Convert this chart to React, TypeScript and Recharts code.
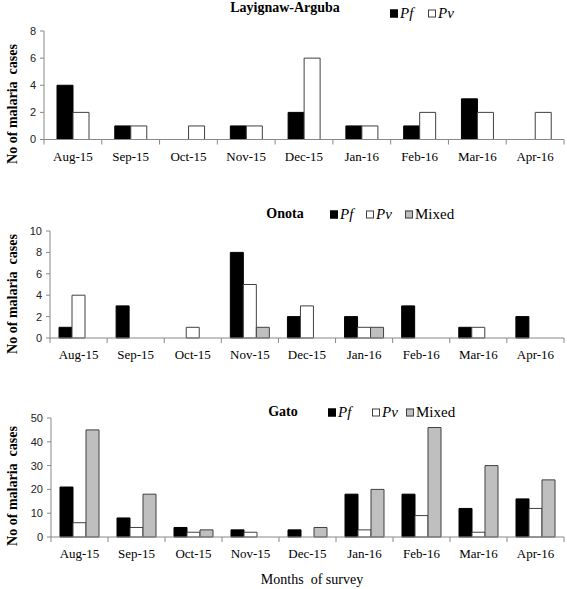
import { BarChart, Bar, XAxis, YAxis, Label } from 'recharts'

const months = ['Aug-15', 'Sep-15', 'Oct-15', 'Nov-15', 'Dec-15', 'Jan-16', 'Feb-16', 'Mar-16', 'Apr-16']

const layignawPf = [4, 1, 0, 1, 2, 1, 1, 3, 0]
const layignawPv = [2, 1, 1, 1, 6, 1, 2, 2, 2]

const onotaPf = [1, 3, 0, 8, 2, 2, 3, 1, 2]
const onotaPv = [4, 0, 1, 5, 3, 1, 0, 1, 0]
const onotaMixed = [0, 0, 0, 1, 0, 1, 0, 0, 0]

const gatoPf = [21, 8, 4, 3, 3, 18, 18, 12, 16]
const gatoPv = [6, 4, 2, 2, 0, 3, 9, 2, 12]
const gatoMixed = [45, 18, 3, 0, 4, 20, 46, 30, 24]

const layignawTicks = [0, 2, 4, 6, 8]
const onotaTicks = [0, 2, 4, 6, 8, 10]
const gatoTicks = [0, 10, 20, 30, 40, 50]

const W = 567
const RIGHT = 3
const AXIS = '#888888'
const SERIF = '"Liberation Serif", "Times New Roman", serif'
const SANS = '"Liberation Sans", Arial, sans-serif'

const SERIES = {
  Pf: { fill: '#000000', stroke: '#000000', italic: true },
  Pv: { fill: '#ffffff', stroke: '#404040', italic: true },
  Mixed: { fill: '#bfbfbf', stroke: '#404040', italic: false },
} as const

type Key = keyof typeof SERIES

const build = (cols: Partial<Record<Key, number[]>>) =>
  months.map((m, i) => {
    const row: any = { month: m }
    ;(Object.keys(cols) as Key[]).forEach((k) => (row[k] = cols[k]![i]))
    return row
  })

// month label plus boundary tick marks (ticks sit between categories)
const MonthTick = (props: any) => {
  const { x, y, payload, index, band } = props
  return (
    <g>
      <line x1={x - band / 2} y1={y} x2={x - band / 2} y2={y + 5} stroke={AXIS} />
      {index === months.length - 1 && (
        <line x1={x + band / 2} y1={y} x2={x + band / 2} y2={y + 5} stroke={AXIS} />
      )}
      <text
        x={x}
        y={y + 21}
        textAnchor="middle"
        style={{ fontFamily: SERIF, fontSize: 13, fill: '#000' }}
      >
        {payload.value}
      </text>
    </g>
  )
}

type PanelProps = {
  top: number
  height: number
  plotTop: number
  plotBottom: number
  left: number
  barSize: number
  title: string
  titleX: number
  titleY: number
  legendY: number
  legendX: number[]
  data: any[]
  keys: Key[]
  ticks: number[]
  labelY: number
}

const Panel = (p: PanelProps) => {
  const band = (W - p.left - RIGHT) / months.length
  return (
    <div style={{ position: 'absolute', left: 0, top: p.top, width: W, height: p.height }}>
      <BarChart
        width={W}
        height={p.height}
        data={p.data}
        margin={{ top: p.plotTop, right: RIGHT, left: 0, bottom: 0 }}
        barGap={0}
        barSize={p.barSize}
      >
        <XAxis
          dataKey="month"
          height={p.height - p.plotBottom}
          stroke={AXIS}
          tickLine={false}
          tickSize={0}
          tickMargin={0}
          interval={0}
          tick={(t: any) => <MonthTick {...t} band={band} />}
        />
        <YAxis
          width={p.left}
          domain={[0, p.ticks[p.ticks.length - 1]]}
          ticks={p.ticks}
          interval={0}
          stroke={AXIS}
          tickSize={4}
          tickMargin={4}
          tick={{ fill: '#222', fontFamily: SANS, fontSize: 11 }}
        >
          <Label
            content={() => (
              <text
                x={12}
                y={p.labelY}
                transform={`rotate(-90 12 ${p.labelY})`}
                textAnchor="middle"
                dominantBaseline="central"
                style={{
                  fontFamily: SERIF,
                  fontWeight: 'bold',
                  fontSize: 14,
                  fill: '#000',
                  whiteSpace: 'pre',
                }}
              >
                No of malaria  cases
              </text>
            )}
          />
        </YAxis>
        {p.keys.map((k) => (
          <Bar
            key={k}
            dataKey={k}
            name={k}
            fill={SERIES[k].fill}
            stroke={SERIES[k].stroke}
            strokeWidth={1}
            isAnimationActive={false}
          />
        ))}
      </BarChart>
      <div
        style={{
          position: 'absolute',
          left: p.titleX,
          top: p.titleY,
          transform: 'translate(-50%, -50%)',
          fontFamily: SERIF,
          fontWeight: 'bold',
          fontSize: 14,
          whiteSpace: 'nowrap',
        }}
      >
        {p.title}
      </div>
      {p.keys.map((k, i) => (
        <div
          key={k}
          style={{
            position: 'absolute',
            left: p.legendX[i],
            top: p.legendY,
            transform: 'translateY(-50%)',
            display: 'flex',
            alignItems: 'center',
            fontFamily: SERIF,
            fontSize: 15,
            fontStyle: SERIES[k].italic ? 'italic' : 'normal',
            whiteSpace: 'nowrap',
            lineHeight: 1,
          }}
        >
          <span
            style={{
              display: 'inline-block',
              width: 6,
              height: 6,
              background: SERIES[k].fill,
              border: `1px solid ${SERIES[k].stroke}`,
              marginRight: 2,
            }}
          />
          {k}
        </div>
      ))}
    </div>
  )
}

const App = () => {
  return (
    <div style={{ position: 'relative', width: W, height: 589, background: '#fff' }}>
      <style>{'body{margin:0}'}</style>
      <Panel
        top={0}
        height={190}
        plotTop={31}
        plotBottom={139.5}
        left={44}
        barSize={16}
        title="Layignaw-Arguba"
        titleX={285}
        titleY={8}
        legendY={13}
        legendX={[390, 428]}
        data={build({ Pf: layignawPf, Pv: layignawPv })}
        keys={['Pf', 'Pv']}
        ticks={layignawTicks}
        labelY={104}
      />
      <Panel
        top={190}
        height={190}
        plotTop={41}
        plotBottom={148}
        left={50}
        barSize={13}
        title="Onota"
        titleX={285}
        titleY={24}
        legendY={24}
        legendX={[330, 366, 405]}
        data={build({ Pf: onotaPf, Pv: onotaPv, Mixed: onotaMixed })}
        keys={['Pf', 'Pv', 'Mixed']}
        ticks={onotaTicks}
        labelY={104}
      />
      <Panel
        top={380}
        height={209}
        plotTop={38}
        plotBottom={157}
        left={51}
        barSize={13}
        title="Gato"
        titleX={283}
        titleY={32}
        legendY={32}
        legendX={[328, 372, 406]}
        data={build({ Pf: gatoPf, Pv: gatoPv, Mixed: gatoMixed })}
        keys={['Pf', 'Pv', 'Mixed']}
        ticks={gatoTicks}
        labelY={106}
      />
      <div
        style={{
          position: 'absolute',
          left: 312,
          top: 580,
          transform: 'translate(-50%, -50%)',
          fontFamily: SERIF,
          fontSize: 14,
          whiteSpace: 'pre',
        }}
      >
        Months  of survey
      </div>
    </div>
  )
}

export default App
